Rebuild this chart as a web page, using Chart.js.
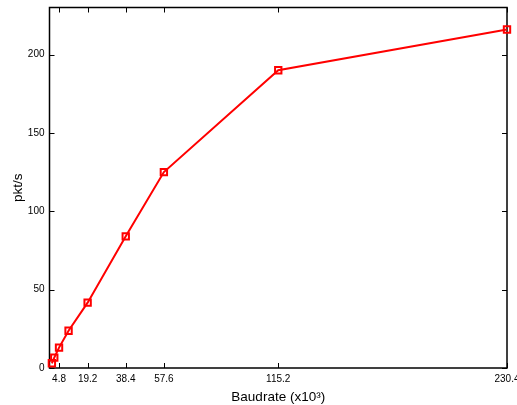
<!DOCTYPE html>
<html>
<head>
<meta charset="utf-8">
<script src="https://cdn.jsdelivr.net/npm/chart.js@4/dist/chart.umd.min.js"></script>
<style>
  html, body { margin: 0; padding: 0; background: #fff; }
  #wrap { width: 517px; height: 405px; }
</style>
</head>
<body>
<div id="wrap"><canvas id="rateChart"></canvas></div>
<script>
const baudK = [1.2, 2.4, 4.8, 9.6, 19.2, 38.4, 57.6, 115.2, 230.4];
const pktPerSec = [3, 6.6, 13, 23.8, 41.7, 84, 125, 190, 216];
const xTicks = [4.8, 19.2, 38.4, 57.6, 115.2, 230.4];
const yTicks = [0, 50, 100, 150, 200];

// MATLAB-style box with inward tick marks on all four sides
const boxTicks = {
  id: "boxTicks",
  beforeDatasetsDraw(chart) {
    const { ctx, chartArea: a, scales } = chart;
    const len = 5;
    ctx.save();
    ctx.strokeStyle = "#000";
    ctx.lineWidth = 1;
    ctx.beginPath();
    xTicks.forEach((v) => {
      const px = Math.round(scales.x.getPixelForValue(v)) + 0.5;
      ctx.moveTo(px, a.bottom); ctx.lineTo(px, a.bottom - len);
      ctx.moveTo(px, a.top); ctx.lineTo(px, a.top + len);
    });
    yTicks.forEach((v) => {
      const py = Math.round(scales.y.getPixelForValue(v)) + 0.5;
      ctx.moveTo(a.left, py); ctx.lineTo(a.left + len, py);
      ctx.moveTo(a.right, py); ctx.lineTo(a.right - len, py);
    });
    ctx.stroke();
    ctx.lineWidth = 1.5;
    ctx.strokeRect(a.left, a.top, a.right - a.left, a.bottom - a.top);
    ctx.restore();
  }
};

new Chart(document.getElementById("rateChart"), {
  type: "line",
  data: {
    datasets: [{
      data: baudK.map((b, i) => ({ x: b, y: pktPerSec[i] })),
      borderColor: "#ff0000",
      borderWidth: 2,
      pointStyle: "rect",
      pointRadius: 4.5,
      pointBorderWidth: 2,
      pointBorderColor: "#ff0000",
      pointBackgroundColor: "rgba(0,0,0,0)",
      tension: 0,
      clip: false
    }]
  },
  options: {
    responsive: true,
    maintainAspectRatio: false,
    animation: false,
    layout: { padding: { top: 7.5, right: 10, left: 0, bottom: 0 } },
    plugins: { legend: { display: false }, tooltip: { enabled: false } },
    scales: {
      x: {
        type: "linear",
        min: 0,
        max: 230.4,
        grid: { display: false, drawTicks: false },
        border: { display: false },
        afterBuildTicks: (s) => { s.ticks = xTicks.map((v) => ({ value: v })); },
        afterFit: (s) => { s.height = 37; s.paddingLeft = 0; s.paddingRight = 0; },
        ticks: {
          color: "#000",
          padding: 5,
          maxRotation: 0,
          autoSkip: false,
          font: { family: "Liberation Sans, Arial, sans-serif", size: 10 },
          callback: (v) => String(v)
        },
        title: {
          display: true,
          text: "Baudrate (x10\u00b3)",
          color: "#000",
          padding: { top: 2, bottom: 0 },
          font: { family: "Liberation Sans, Arial, sans-serif", size: 13.5 }
        }
      },
      y: {
        min: 0,
        max: 230,
        grid: { display: false, drawTicks: false },
        border: { display: false },
        afterBuildTicks: (s) => { s.ticks = yTicks.map((v) => ({ value: v })); },
        afterFit: (s) => { s.width = 49.5; s.paddingTop = 0; s.paddingBottom = 0; },
        ticks: {
          color: "#000",
          padding: 5,
          font: { family: "Liberation Sans, Arial, sans-serif", size: 10 }
        },
        title: {
          display: true,
          text: "pkt/s",
          color: "#000",
          padding: { top: 10, bottom: 0 },
          font: { family: "Liberation Sans, Arial, sans-serif", size: 13.5 }
        }
      }
    }
  },
  plugins: [boxTicks]
});
</script>
</body>
</html>
